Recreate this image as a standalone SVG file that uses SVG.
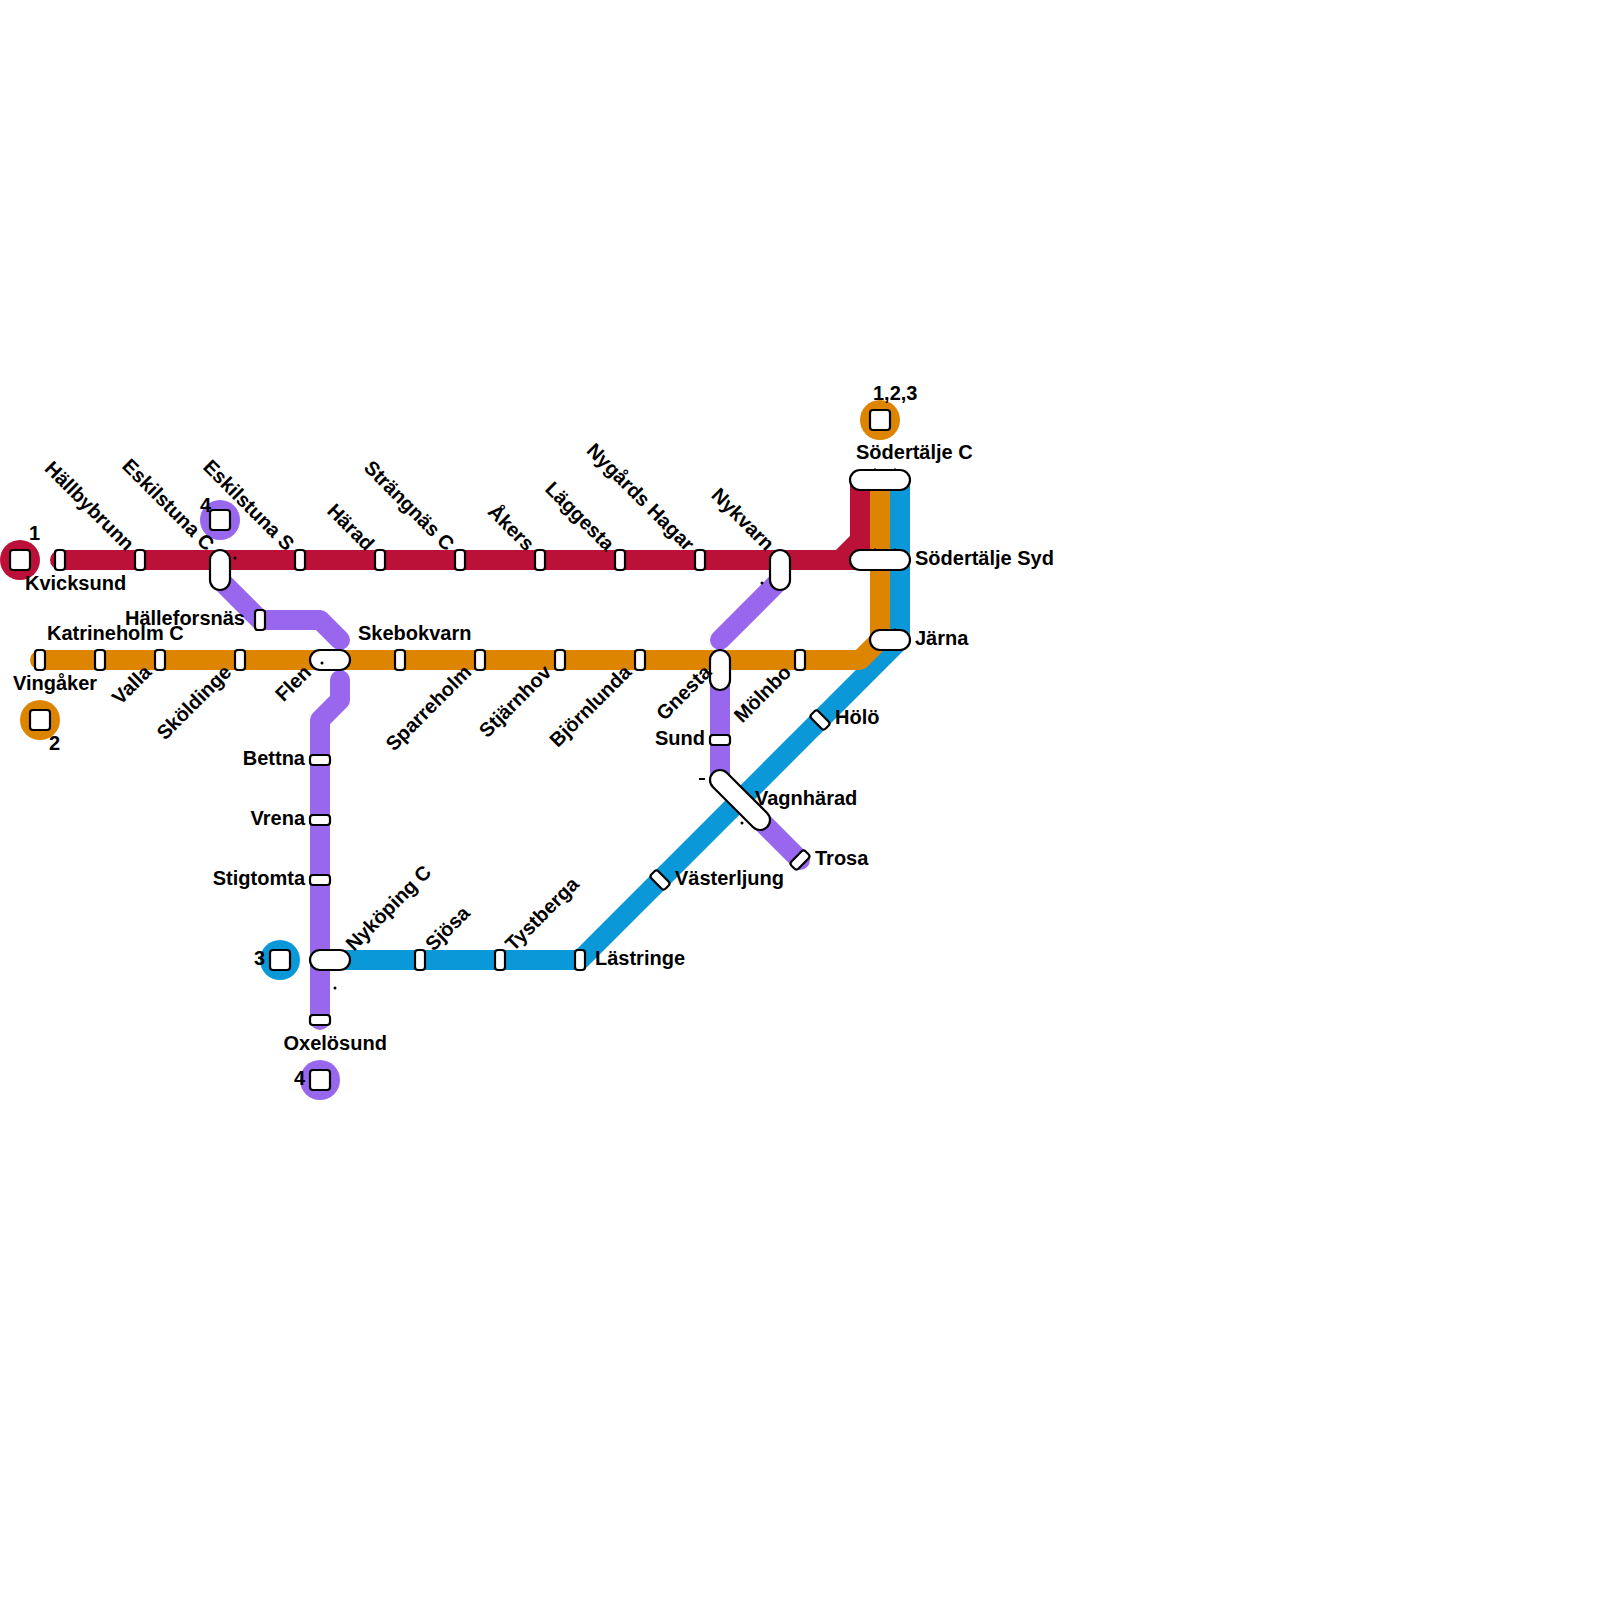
<svg xmlns="http://www.w3.org/2000/svg" width="1600" height="1600" viewBox="0 0 1600 1600">
<style>
.l{fill:none;stroke-width:20;stroke-linecap:round;stroke-linejoin:round}
.s{fill:#fff;stroke:#000;stroke-width:2.2}
.t{font:bold 20px "Liberation Sans",Arial,sans-serif;fill:#000}
.e{text-anchor:end}
.red{stroke:#bb1138}.or{stroke:#dd8500}.bl{stroke:#0a98d8}.pu{stroke:#9966ee}
.tick{stroke:#000;stroke-width:1;fill:none}
</style>
<defs>
<rect id="sv" class="s" x="-5" y="-10" width="10" height="20" rx="3"/>
<rect id="sh" class="s" x="-10" y="-5" width="20" height="10" rx="3"/>
<rect id="ic" class="s" x="-10" y="-10" width="20" height="20" rx="3"/>
</defs>
<g id="connectors">
<path class="l pu" d="M220 580L260 620H320L340 640"/>
<path class="l pu" d="M340 680V700L320 720V1020"/>
<path class="l pu" d="M780 580L720 640"/>
<path class="l pu" d="M720 680V780L800 860"/>
<path class="l red" d="M60 560H860V480M840 560L860 540"/>
<path class="l bl" d="M340 960H580L900 640V480"/>
<path class="l or" d="M40 660H860L880 640V480"/>
</g>
<g id="i-1"><circle cx="20" cy="560" r="20" fill="#bb1138"/><use href="#ic" x="20" y="560"/><text class="t" x="29" y="540">1</text></g>
<g id="i-2"><circle cx="40" cy="720" r="20" fill="#dd8500"/><use href="#ic" x="40" y="720"/><text class="t" x="49" y="750">2</text></g>
<g id="i-3"><circle cx="280" cy="960" r="20" fill="#0a98d8"/><use href="#ic" x="280" y="960"/><text class="t" x="254" y="965">3</text></g>
<g id="i-4a"><circle cx="220" cy="520" r="20" fill="#9966ee"/><use href="#ic" x="220" y="520"/><text class="t" x="200" y="512">4</text></g>
<g id="i-4b"><circle cx="320" cy="1080" r="20" fill="#9966ee"/><use href="#ic" x="320" y="1080"/><text class="t" x="294" y="1085">4</text></g>
<g id="i-123"><circle cx="880" cy="420" r="20" fill="#dd8500"/><use href="#ic" x="880" y="420"/><text class="t" x="873" y="400">1,2,3</text></g>
<g id="n-kvicksund"><use href="#sv" x="60" y="560"/><text class="t" x="25" y="590">Kvicksund</text></g>
<g id="n-hallbybrunn"><use href="#sv" x="140" y="560"/><text class="t e" transform="translate(126 552) rotate(45)">Hällbybrunn</text></g>
<g id="n-eskilstuna-c"><rect class="s" x="210" y="550" width="20" height="40" rx="10"/><text class="t e" transform="translate(206 552) rotate(45)">Eskilstuna C</text><circle cx="235" cy="558" r="1.5"/></g>
<g id="n-eskilstuna-s"><use href="#sv" x="300" y="560"/><text class="t e" transform="translate(286 552) rotate(45)">Eskilstuna S</text></g>
<g id="n-harad"><use href="#sv" x="380" y="560"/><text class="t e" transform="translate(366 552) rotate(45)">Härad</text></g>
<g id="n-strangnas"><use href="#sv" x="460" y="560"/><text class="t e" transform="translate(446 552) rotate(45)">Strängnäs C</text></g>
<g id="n-akers"><use href="#sv" x="540" y="560"/><text class="t e" transform="translate(526 552) rotate(45)">Åkers</text></g>
<g id="n-laggesta"><use href="#sv" x="620" y="560"/><text class="t e" transform="translate(606 552) rotate(45)">Läggesta</text></g>
<g id="n-nygards"><use href="#sv" x="700" y="560"/><text class="t e" transform="translate(686 552) rotate(45)">Nygårds Hagar</text></g>
<g id="n-nykvarn"><rect class="s" x="770" y="550" width="20" height="40" rx="10"/><text class="t e" transform="translate(766 552) rotate(45)">Nykvarn</text><circle cx="762" cy="583" r="1.5"/></g>
<g id="n-vingaker"><use href="#sv" x="40" y="660"/><text class="t" x="13" y="690">Vingåker</text></g>
<g id="n-katrineholm"><use href="#sv" x="100" y="660"/><text class="t" x="47" y="640">Katrineholm C</text></g>
<g id="n-valla"><use href="#sv" x="160" y="660"/><text class="t e" transform="translate(152.500 673.500) rotate(-45)">Valla</text></g>
<g id="n-skoldinge"><use href="#sv" x="240" y="660"/><text class="t e" transform="translate(232.500 673.500) rotate(-45)">Sköldinge</text></g>
<g id="n-flen"><rect class="s" x="310" y="650" width="40" height="20" rx="10"/><text class="t e" transform="translate(312.500 673.500) rotate(-45)">Flen</text><circle cx="322" cy="663" r="1.500"/></g>
<g id="n-skebokvarn"><use href="#sv" x="400" y="660"/><text class="t" x="358" y="640">Skebokvarn</text></g>
<g id="n-sparreholm"><use href="#sv" x="480" y="660"/><text class="t e" transform="translate(472.500 673.500) rotate(-45)">Sparreholm</text></g>
<g id="n-stjarnhov"><use href="#sv" x="560" y="660"/><text class="t e" transform="translate(552.500 673.500) rotate(-45)">Stjärnhov</text></g>
<g id="n-bjornlunda"><use href="#sv" x="640" y="660"/><text class="t e" transform="translate(632.500 673.500) rotate(-45)">Björnlunda</text></g>
<g id="n-gnesta"><rect class="s" x="710" y="650" width="20" height="40" rx="10"/><text class="t e" transform="translate(712.500 673.500) rotate(-45)">Gnesta</text></g>
<g id="n-molnbo"><use href="#sv" x="800" y="660"/><text class="t e" transform="translate(792.500 673.500) rotate(-45)">Mölnbo</text></g>
<g id="n-halleforsnas"><use href="#sv" x="260" y="620"/><text class="t e" x="245" y="625">Hälleforsnäs</text></g>
<g id="n-sund"><use href="#sh" x="720" y="740"/><text class="t e" x="705" y="745">Sund</text></g>
<g id="n-vagnharad"><rect class="s" x="-38.300" y="-10" width="76.600" height="20" rx="10" transform="translate(740 800) rotate(45)"/><text class="t" x="755" y="805">Vagnhärad</text><rect x="699" y="778" width="6" height="2"/><circle cx="742" cy="823" r="1.500"/></g>
<g id="n-trosa"><use href="#sh" transform="translate(800 860) rotate(-45)"/><text class="t" x="815" y="865">Trosa</text></g>
<g id="n-holo"><use href="#sh" transform="translate(820 720) rotate(45)"/><text class="t" x="835" y="724">Hölö</text></g>
<g id="n-vasterljung"><use href="#sh" transform="translate(660 880) rotate(45)"/><text class="t" x="675" y="885">Västerljung</text></g>
<g id="n-lastringe"><use href="#sv" x="580" y="960"/><text class="t" x="595" y="965">Lästringe</text></g>
<g id="n-tystberga"><use href="#sv" x="500" y="960"/><text class="t" transform="translate(513.500 952) rotate(-45)">Tystberga</text></g>
<g id="n-sjosa"><use href="#sv" x="420" y="960"/><text class="t" transform="translate(433.500 952) rotate(-45)">Sjösa</text></g>
<g id="n-nykoping"><rect class="s" x="310" y="950" width="40" height="20" rx="10"/><text class="t" transform="translate(354 952) rotate(-45)">Nyköping C</text><circle cx="335" cy="988" r="1.500"/></g>
<g id="n-bettna"><use href="#sh" x="320" y="760"/><text class="t e" x="305" y="765">Bettna</text></g>
<g id="n-vrena"><use href="#sh" x="320" y="820"/><text class="t e" x="305" y="825">Vrena</text></g>
<g id="n-stigtomta"><use href="#sh" x="320" y="880"/><text class="t e" x="305" y="885">Stigtomta</text></g>
<g id="n-oxelosund"><use href="#sh" x="320" y="1020"/><text class="t" x="283.500" y="1050">Oxelösund</text></g>
<g id="n-sodertalje-c"><rect class="s" x="850" y="470" width="60" height="20" rx="10"/><text class="t" x="856" y="459">Södertälje C</text><path class="tick" d="M875 468v2M895 468v2"/></g>
<g id="n-sodertalje-syd"><rect class="s" x="850" y="550" width="60" height="20" rx="10"/><text class="t" x="915" y="565">Södertälje Syd</text><path class="tick" d="M875 548v2M895 548v2"/></g>
<g id="n-jarna"><rect class="s" x="870" y="630" width="40" height="20" rx="10"/><text class="t" x="915" y="645">Järna</text><path class="tick" d="M895 628v2"/></g>
</svg>
